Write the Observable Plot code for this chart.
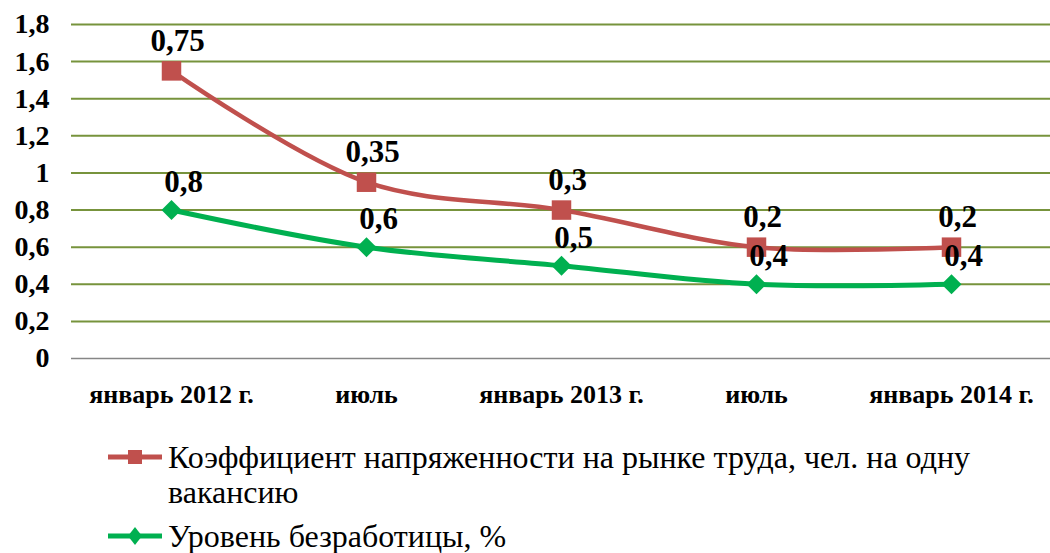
<!DOCTYPE html>
<html><head><meta charset="utf-8">
<script src="https://cdn.jsdelivr.net/npm/d3@7"></script>
<script src="https://cdn.jsdelivr.net/npm/@observablehq/plot@0.6"></script>
<style>
body{margin:0;background:#fff}
</style>
</head>
<body>
<div id="chart" style="width:1050px;height:553px;position:relative;overflow:hidden;font-family:'Liberation Serif', serif"></div>
<script>
const categories = ["январь 2012 г.", "июль", "январь 2013 г.", "июль", "январь 2014 г."];
const unemployment = [0.8, 0.6, 0.5, 0.4, 0.4];
const tension = [0.75, 0.35, 0.3, 0.2, 0.2];
const yTicks = [0, 0.2, 0.4, 0.6, 0.8, 1, 1.2, 1.4, 1.6, 1.8];
const seriesNames = ["Коэффициент напряженности на рынке труда, чел. на одну вакансию", "Уровень безработицы, %"];
const colors = ["#C0504D", "#00B050"];

const FONT = "'Liberation Serif', serif";
const keys = categories.map((c, i) => i);
const fmt = d => String(d).replace(".", ",");
const green = keys.map(i => ({k: i, y: unemployment[i], v: unemployment[i]}));
const red = keys.map(i => ({k: i, y: unemployment[i] + tension[i], v: tension[i]}));

const plot = Plot.plot({
  width: 1050, height: 415,
  marginLeft: 71, marginRight: 0, marginTop: 24, marginBottom: 57,
  style: {fontFamily: FONT, background: "#fff", color: "#000"},
  x: {type: "point", domain: keys, padding: 0.5},
  y: {domain: [0, 1.8]},
  marks: [
    Plot.ruleY(yTicks.filter(d => d > 0), {stroke: "#77933C", strokeWidth: 2}),
    Plot.ruleY([0], {stroke: "#868686", strokeWidth: 1.5}),
    Plot.axisY(yTicks, {tickSize: 0, tickPadding: 22, tickFormat: fmt, fontSize: 28, fontWeight: "bold", label: null}),
    Plot.axisX(keys, {tickSize: 0, tickPadding: 26, tickFormat: i => categories[i], fontSize: 26, fontWeight: "bold", label: null}),
    Plot.line(red, {x: "k", y: "y", stroke: colors[0], strokeWidth: 4.5, curve: "catmull-rom"}),
    Plot.line(green, {x: "k", y: "y", stroke: colors[1], strokeWidth: 5, curve: "catmull-rom"}),
    Plot.dot(red, {x: "k", y: "y", symbol: "square", r: 11, fill: colors[0], stroke: "none"}),
    Plot.dot(green, {x: "k", y: "y", symbol: "diamond2", r: 9, fill: colors[1], stroke: "none"}),
    Plot.text(red, {x: "k", y: "y", text: d => fmt(d.v), dx: 6, dy: -30, fontSize: 31, fontWeight: "bold", fill: "#000"}),
    Plot.text(green, {x: "k", y: "y", text: d => fmt(d.v), dx: 12, dy: -28, fontSize: 31, fontWeight: "bold", fill: "#000"})
  ]
});
const chart = document.getElementById("chart");
chart.appendChild(plot);

function legendItem(i, top, symbol) {
  const div = document.createElement("div");
  div.style.cssText = `position:absolute;left:108px;top:${top}px;display:flex;align-items:flex-start;font-size:32px;color:#000;line-height:35px;font-family:${FONT}`;
  const mk = symbol === "square"
    ? `<rect x="20" y="10" width="14" height="14" fill="${colors[i]}"/>`
    : `<path d="M27 8 L34 17 L27 26 L20 17 Z" fill="${colors[i]}"/>`;
  div.innerHTML = `<svg width="60" height="35" style="flex:none"><line x1="0" x2="54" y1="17" y2="17" stroke="${colors[i]}" stroke-width="5"/>${mk}</svg><span style="width:860px">${seriesNames[i]}</span>`;
  chart.appendChild(div);
}
legendItem(0, 440, "square");
legendItem(1, 519, "diamond");
</script></body></html>
